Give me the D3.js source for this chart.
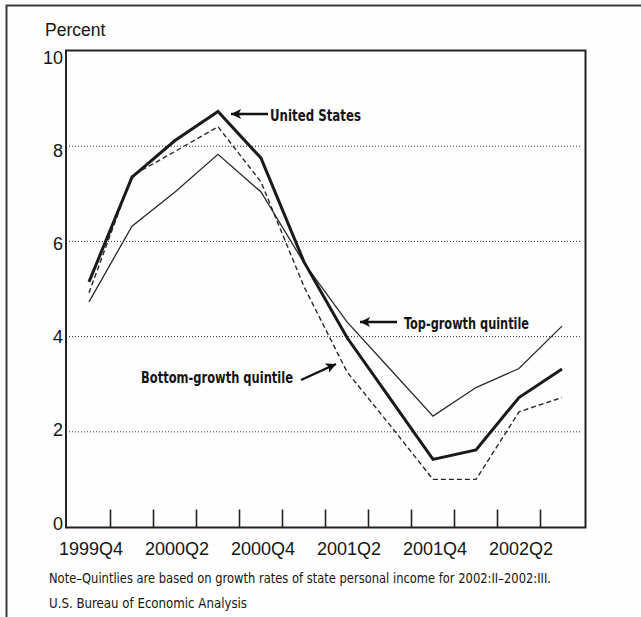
<!DOCTYPE html>
<html>
<head>
<meta charset="utf-8">
<script src="https://cdn.jsdelivr.net/npm/d3@7/dist/d3.min.js"></script>
<style>
  html, body { margin: 0; padding: 0; background: #fff; }
  svg { display: block; }
  .num { font-family: "Liberation Sans", Arial, Helvetica, sans-serif; fill: #151515; }
  .nar { font-family: "Liberation Sans Narrow", "Arial Narrow", "DejaVu Sans Condensed", sans-serif; fill: #151515; }
</style>
</head>
<body>
<script>
// ---- data ----
const quarters = ["1999Q4","2000Q1","2000Q2","2000Q3","2000Q4","2001Q1","2001Q2","2001Q3","2001Q4","2002Q1","2002Q2","2002Q3"];
const unitedStates   = [5.15, 7.35, 8.12, 8.73, 7.75, 5.57, 3.98, 2.70, 1.42, 1.62, 2.72, 3.32];
const topGrowth      = [4.73, 6.32, 7.04, 7.83, 7.04, 5.55, 4.31, 3.32, 2.33, 2.93, 3.33, 4.22];
const bottomGrowth   = [4.92, 7.38, 7.89, 8.41, 7.25, 5.05, 3.26, 2.14, 1.00, 1.00, 2.42, 2.72];
const yTicks = [0, 2, 4, 6, 8, 10];
const xTickLabels = ["1999Q4","2000Q2","2000Q4","2001Q2","2001Q4","2002Q2"];

const W = 641, H = 617;
const svg = d3.select("body").append("svg").attr("width", W).attr("height", H);
svg.append("rect").attr("width", W).attr("height", H).attr("fill", "#fefefe");

// outer border (top and left)
svg.append("path").attr("d", `M6.5,${H} V5.5 H${W}`).attr("fill", "none")
  .attr("stroke", "#3a3a3a").attr("stroke-width", 2);

const plot = { left: 66, right: 585.5, top: 50.5, bottom: 527.5 };

const x = d3.scalePoint().domain(quarters).range([89, 562]);
const step = x.step();
const y = d3.scaleLinear().domain([0, 10]).range([527, 51]);
const yLab = d3.scaleLinear().domain([0, 10]).range([529.5, 64]);

// gridlines
svg.append("g").selectAll("line").data(yTicks.filter(d => d > 0 && d < 10)).join("line")
  .attr("x1", plot.left + 3).attr("x2", plot.right - 4)
  .attr("y1", d => y(d)).attr("y2", d => y(d))
  .attr("stroke", "#333").attr("stroke-width", 1).attr("stroke-dasharray", "1,2");

// frame
svg.append("rect").attr("x", plot.left).attr("y", plot.top)
  .attr("width", plot.right - plot.left).attr("height", plot.bottom - plot.top)
  .attr("fill", "none").attr("stroke", "#222").attr("stroke-width", 2);

// x ticks between quarters
svg.append("g").selectAll("line").data(quarters.slice(0, -1)).join("line")
  .attr("x1", d => x(d) + step / 2).attr("x2", d => x(d) + step / 2)
  .attr("y1", plot.bottom).attr("y2", plot.bottom - 18)
  .attr("stroke", "#222").attr("stroke-width", 1.6);

// x labels
svg.append("g").selectAll("text").data(xTickLabels).join("text")
  .attr("class", "num").attr("x", d => x(d) + 2).attr("y", 555)
  .attr("text-anchor", "middle").attr("font-size", 18).text(d => d);

// y labels
svg.append("g").selectAll("text").data(yTicks).join("text")
  .attr("class", "num").attr("x", 63).attr("y", d => yLab(d))
  .attr("text-anchor", "end").attr("font-size", 18).text(d => d);

svg.append("text").attr("class", "num").attr("x", 45).attr("y", 35.5)
  .attr("font-size", 17.5).text("Percent");

// lines
const line = d3.line().x((d, i) => x(quarters[i])).y(d => y(d));
svg.append("path").datum(topGrowth).attr("d", line).attr("fill", "none")
  .attr("stroke", "#2a2a2a").attr("stroke-width", 1.3).attr("stroke-linejoin", "miter");
svg.append("path").datum(bottomGrowth).attr("d", line).attr("fill", "none")
  .attr("stroke", "#2a2a2a").attr("stroke-width", 1.4).attr("stroke-dasharray", "5,3");
svg.append("path").datum(unitedStates).attr("d", line).attr("fill", "none")
  .attr("stroke", "#1a1a1a").attr("stroke-width", 3).attr("stroke-linejoin", "miter");

// arrows
const defs = svg.append("defs");
defs.append("marker").attr("id", "ah").attr("viewBox", "0 0 10 10")
  .attr("refX", 10).attr("refY", 5).attr("markerWidth", 5).attr("markerHeight", 4.2)
  .attr("markerUnits", "strokeWidth").attr("orient", "auto")
  .append("path").attr("d", "M0,0 L10,5 L0,10 L2.5,5 Z").attr("fill", "#111");

function arrow(x1, y1, x2, y2) {
  svg.append("line").attr("x1", x1).attr("y1", y1).attr("x2", x2).attr("y2", y2)
    .attr("stroke", "#111").attr("stroke-width", 2.4).attr("marker-end", "url(#ah)");
}
function label(txt, xx, yy, fs, len) {
  svg.append("text").attr("class", "nar").attr("x", xx).attr("y", yy)
    .attr("font-size", fs).attr("font-weight", "bold")
    .attr("textLength", len).attr("lengthAdjust", "spacingAndGlyphs").text(txt);
}
arrow(268, 114, 231, 114);
label("United States", 270, 120.5, 16.5, 91);
arrow(397, 322, 360, 322);
label("Top-growth quintile", 404, 329, 16.5, 125);
arrow(301, 380, 336, 364);
label("Bottom-growth quintile", 141, 383, 16.5, 152);

// notes
function note(txt, xx, yy, len) {
  svg.append("text").attr("class", "nar").attr("x", xx).attr("y", yy)
    .attr("font-size", 14.5).attr("fill", "#0d0d0d")
    .attr("textLength", len).attr("lengthAdjust", "spacingAndGlyphs").text(txt);
}
note("Note\u2013Quintlies are based on growth rates of state personal income for 2002:II\u20132002:III.", 49, 583, 502);
note("U.S. Bureau of Economic Analysis", 49, 608, 198);
</script>
</body>
</html>
